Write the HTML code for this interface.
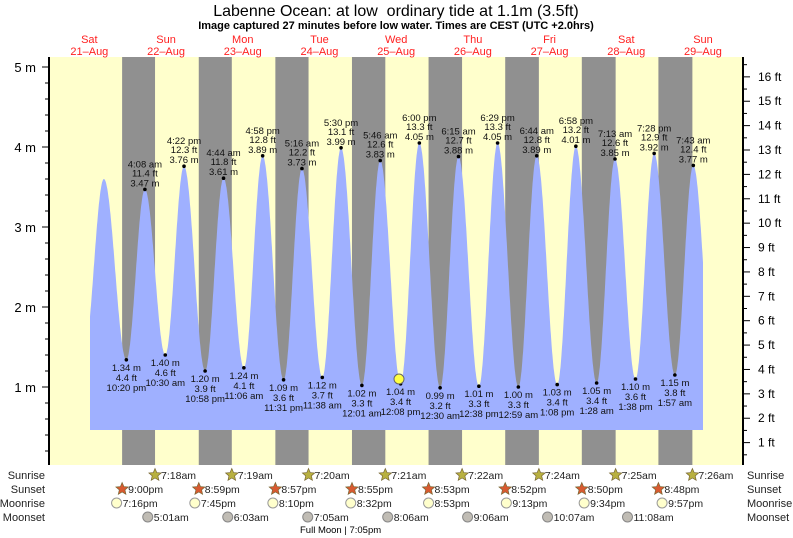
<!DOCTYPE html>
<html><head><meta charset="utf-8"><style>
html,body{margin:0;padding:0;background:#fff}
svg{display:block;font-family:"Liberation Sans",sans-serif}
</style></head><body>
<svg id="s" width="793" height="538" viewBox="0 0 793 538" xmlns="http://www.w3.org/2000/svg">
<text x="396" y="16" font-size="16" text-anchor="middle" fill="#000" style="white-space:pre">Labenne Ocean: at low  ordinary tide at 1.1m (3.5ft)</text>
<text x="396" y="29" font-size="11" font-weight="bold" text-anchor="middle" fill="#000">Image captured 27 minutes before low water. Times are CEST (UTC +2.0hrs)</text>
<g id="g"></g>
<text x="300" y="533" font-size="9.5" fill="#000">Full Moon | 7:05pm</text>
</svg>
<script>
var NS="http://www.w3.org/2000/svg",g=document.getElementById("g");
function el(n,a,t){var e=document.createElementNS(NS,n);for(var k in a)e.setAttribute(k,a[k]);if(t!=null)e.textContent=t;g.appendChild(e);return e;}
function X(t){return 55+3.196*t}
function Y(h){return 467-80*h}
el("rect",{x:49,y:57,width:694,height:408,fill:"#ffffcc"});
var ss=[21,20.983,20.95,20.917,20.883,20.867,20.833,20.8];
var sr=[7.3,7.317,7.333,7.35,7.367,7.4,7.417,7.433];
for(var d=0;d<8;d++){var a=X(d*24+ss[d]),b=X((d+1)*24+sr[d]);el("rect",{x:a,y:57,width:b-a,height:408,fill:"#909090"});}
var E=[[9,1.4],[15.3,3.6],[22.33,1.34],[28.13,3.47],[34.5,1.40],[40.37,3.76],[46.97,1.20],[52.73,3.61],[59.1,1.24],[64.97,3.89],[71.52,1.09],[77.27,3.73],[83.63,1.12],[89.5,3.99],[96.02,1.02],[101.77,3.83],[108.13,1.04],[114,4.05],[120.5,0.99],[126.25,3.88],[132.63,1.01],[138.48,4.05],[144.98,1.00],[150.73,3.89],[157.13,1.03],[162.97,4.01],[169.47,1.05],[175.22,3.85],[181.63,1.10],[187.47,3.92],[193.95,1.15],[199.72,3.77],[206,1.2]];
function H(t){for(var i=0;i<E.length-1;i++){if(t>=E[i][0]&&t<=E[i+1][0]){var f=(t-E[i][0])/(E[i+1][0]-E[i][0]);return E[i][1]+(E[i+1][1]-E[i][1])*(1-Math.cos(Math.PI*f))/2;}}return 1}
var t0=(90-55)/3.196,t1=(703-55)/3.196,p="M90,430";
for(var t=t0;t<=t1;t+=0.1)p+=" L"+X(t).toFixed(1)+","+Y(H(t)).toFixed(1);
p+=" L703,"+Y(H(t1)).toFixed(1)+" L703,430 Z";
el("path",{d:p,fill:"#9fb0ff"});
var L=[["10:20 pm",22.33,1.34,0],["4:08 am",28.13,3.47,1],["10:30 am",34.5,1.40,0],["4:22 pm",40.37,3.76,1],["10:58 pm",46.97,1.20,0],["4:44 am",52.73,3.61,1],["11:06 am",59.1,1.24,0],["4:58 pm",64.97,3.89,1],["11:31 pm",71.52,1.09,0],["5:16 am",77.27,3.73,1],["11:38 am",83.63,1.12,0],["5:30 pm",89.5,3.99,1],["12:01 am",96.02,1.02,0],["5:46 am",101.77,3.83,1],["12:08 pm",108.13,1.04,0],["6:00 pm",114,4.05,1],["12:30 am",120.5,0.99,0],["6:15 am",126.25,3.88,1],["12:38 pm",132.63,1.01,0],["6:29 pm",138.48,4.05,1],["12:59 am",144.98,1.00,0],["6:44 am",150.73,3.89,1],["1:08 pm",157.13,1.03,0],["6:58 pm",162.97,4.01,1],["1:28 am",169.47,1.05,0],["7:13 am",175.22,3.85,1],["1:38 pm",181.63,1.10,0],["7:28 pm",187.47,3.92,1],["1:57 am",193.95,1.15,0],["7:43 am",199.72,3.77,1]];
L.forEach(function(l){var x=X(l[1]),y=Y(l[2]),m=l[2].toFixed(2)+" m",ft=(l[2]/0.3048).toFixed(1)+" ft";
el("circle",{cx:x,cy:y,r:1.8,fill:"#000"});
var o={x:x,"font-size":9.5,"text-anchor":"middle",fill:"#111"};
function T(yy,s){o.y=yy;el("text",o,s);}
if(l[3]){T(y-22,l[0]);T(y-13,ft);T(y-3,m);}else{T(y+11,m);T(y+21,ft);T(y+31,l[0]);}
});
el("circle",{cx:399,cy:379,r:5,fill:"#ffff44",stroke:"#666","stroke-width":1});
el("line",{x1:49,y1:57,x2:49,y2:465,stroke:"#000","stroke-width":2});
el("line",{x1:743,y1:57,x2:743,y2:465,stroke:"#000","stroke-width":2});
for(var i=1;i<=26;i++){var y=Y(i*0.2);if(y<57)break;var maj=i%5==0;el("line",{x1:maj?42:45,y1:y,x2:49,y2:y,stroke:"#000"});if(maj)el("text",{x:36,y:y+5,"font-size":13,"text-anchor":"end",fill:"#000"},(i/5)+" m");}
for(var i=1;i<=33;i++){var y=Y(i*0.5*0.3048);if(y<57)break;var maj=i%2==0;el("line",{x1:743,y1:y,x2:maj?750:747,y2:y,stroke:"#000"});if(maj)el("text",{x:758,y:y+4,"font-size":12,fill:"#000"},(i/2)+" ft");}
var dn=["Sat","Sun","Mon","Tue","Wed","Thu","Fri","Sat","Sun"];
for(var d=0;d<9;d++){var x=X(d*24+12)-4;el("text",{x:x,y:43,"font-size":11,"text-anchor":"middle",fill:"#ff2020"},dn[d]);el("text",{x:x,y:55,"font-size":11,"text-anchor":"middle",fill:"#ff2020"},(21+d)+"\u2013Aug");}
var rows=["Sunrise","Sunset","Moonrise","Moonset"],ry=[475,489,503,517];
rows.forEach(function(r,i){el("text",{x:45,y:ry[i]+4,"font-size":11,"text-anchor":"end",fill:"#222"},r);el("text",{x:747,y:ry[i]+4,"font-size":11,fill:"#222"},r);});
function star(x,y,c){var s="";for(var k=0;k<10;k++){var a=-Math.PI/2+k*Math.PI/5,r=k%2?3:6.5;s+=(x+r*Math.cos(a)).toFixed(1)+","+(y+r*Math.sin(a)).toFixed(1)+" ";}el("polygon",{points:s,fill:c,stroke:"#776633","stroke-width":0.7});}
function lab(x,y,s){el("text",{x:x+6,y:y+4,"font-size":10.5,fill:"#222"},s);}
var srT=["7:18am","7:19am","7:20am","7:21am","7:22am","7:24am","7:25am","7:26am"];
srT.forEach(function(s,d){var x=X((d+1)*24+sr[d]);star(x,ry[0],"#b8b040");lab(x,ry[0],s);});
var ssT=["9:00pm","8:59pm","8:57pm","8:55pm","8:53pm","8:52pm","8:50pm","8:48pm"];
ssT.forEach(function(s,d){var x=X(d*24+ss[d]);star(x,ry[1],"#d85a30");lab(x,ry[1],s);});
var mr=[[19.27,"7:16pm"],[19.75,"7:45pm"],[20.17,"8:10pm"],[20.53,"8:32pm"],[20.88,"8:53pm"],[21.22,"9:13pm"],[21.57,"9:34pm"],[21.95,"9:57pm"]];
mr.forEach(function(m,d){var x=X(d*24+m[0]);el("circle",{cx:x,cy:ry[2],r:5,fill:"#ffffcc",stroke:"#999"});lab(x,ry[2],m[1]);});
var ms=[[5.02,"5:01am"],[6.05,"6:03am"],[7.08,"7:05am"],[8.1,"8:06am"],[9.1,"9:06am"],[10.12,"10:07am"],[11.13,"11:08am"]];
ms.forEach(function(m,d){var x=X((d+1)*24+m[0]);el("circle",{cx:x,cy:ry[3],r:5,fill:"#c0bcb4",stroke:"#888"});lab(x,ry[3],m[1]);});
</script>
</body></html>
